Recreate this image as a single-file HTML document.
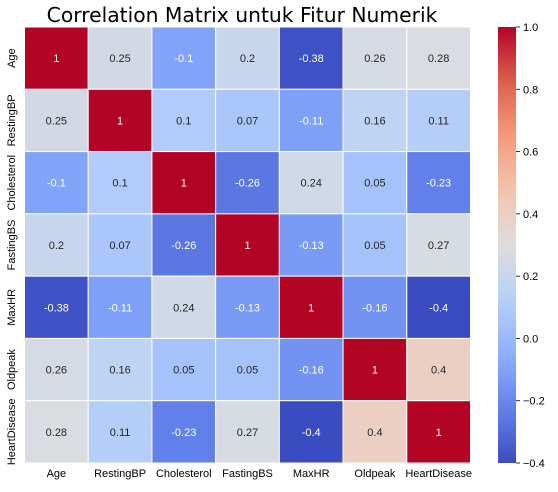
<!DOCTYPE html>
<html><head><meta charset="utf-8"><style>
body{margin:0;background:#fff;width:558px;height:487px;overflow:hidden;font-family:"Liberation Sans",sans-serif}
</style></head><body>
<svg id="chart" width="558" height="487" xmlns="http://www.w3.org/2000/svg">
<defs><linearGradient id="cg" x1="0" y1="1" x2="0" y2="0"></linearGradient></defs>
<text x="242" y="22" font-size="20.3" font-family="DejaVu Sans, sans-serif" text-anchor="middle" fill="#000">Correlation Matrix untuk Fitur Numerik</text>
<g id="cells"></g><g id="labels"></g><g id="cbar"></g>
</svg>
<script>
const features = ["Age","RestingBP","Cholesterol","FastingBS","MaxHR","Oldpeak","HeartDisease"];
const matrix = [
 [1,0.25,-0.1,0.2,-0.38,0.26,0.28],
 [0.25,1,0.1,0.07,-0.11,0.16,0.11],
 [-0.1,0.1,1,-0.26,0.24,0.05,-0.23],
 [0.2,0.07,-0.26,1,-0.13,0.05,0.27],
 [-0.38,-0.11,0.24,-0.13,1,-0.16,-0.4],
 [0.26,0.16,0.05,0.05,-0.16,1,0.4],
 [0.28,0.11,-0.23,0.27,-0.4,0.4,1]
];
const cbarTicks = [-0.4,-0.2,0.0,0.2,0.4,0.6,0.8,1.0];
const vmin=-0.4, vmax=1.0;
const L=24.5,T=27,W=446,H=436,n=features.length,cw=W/n,ch=H/n;
const stops=[[59,76,192],[98,130,234],[141,176,254],[184,208,249],[221,221,221],[245,196,173],[244,154,123],[222,96,77],[180,4,38]];
function cmap(t){t=Math.max(0,Math.min(1,t));const p=t*8,i=Math.min(7,Math.floor(p)),f=p-i,a=stops[i],b=stops[i+1];return a.map((v,k)=>Math.round(v+(b[k]-v)*f));}
function lum(c){const l=c.map(v=>{v/=255;return v<=0.03928?v/12.92:Math.pow((v+0.055)/1.055,2.4)});return 0.2126*l[0]+0.7152*l[1]+0.0722*l[2];}
const NS="http://www.w3.org/2000/svg";
function mk(tag,attrs,parent){const e=document.createElementNS(NS,tag);for(const k in attrs)e.setAttribute(k,attrs[k]);parent.appendChild(e);return e;}
const xs=i=>L+i*cw, ys=j=>T+j*ch;
const cells=document.getElementById('cells'), labels=document.getElementById('labels'), cb=document.getElementById('cbar');
matrix.forEach((row,j)=>row.forEach((v,i)=>{
 const c=cmap((v-vmin)/(vmax-vmin));
 const r=mk('rect',{x:xs(i),y:ys(j),width:cw,height:ch,fill:`rgb(${c})`,stroke:'#fff','stroke-width':1},cells);
 
 
 const t=mk('text',{x:xs(i)+cw/2,y:ys(j)+ch/2+4,'font-size':11,'text-anchor':'middle',fill:lum(c)>0.408?'#262626':'#fff'},cells);
 t.textContent=String(v);
 
 
}));
features.forEach((f,i)=>{
 const t=mk('text',{x:xs(i)+cw/2,y:T+H+14,'font-size':11,'text-anchor':'middle',fill:'#000'},labels);
 t.textContent=f;
 
 
 const cy=ys(i)+ch/2;
 const y=mk('text',{x:0,y:0,'font-size':11,'text-anchor':'middle',fill:'#000',transform:`translate(15,${cy}) rotate(-90)`},labels);
 y.textContent=f;
 
 
});
const g=document.getElementById('cg');
for(let k=0;k<=20;k++){const c=cmap(k/20);mk('stop',{offset:k/20,'stop-color':`rgb(${c})`},g);}
const CX=498,CW=18;
const cr=mk('rect',{x:CX,y:T,width:CW,height:H,fill:'url(#cg)'},cb);


const cys=v=>T+H-(v-vmin)/(vmax-vmin)*H;
cbarTicks.forEach(v=>{
 const y=cys(v);
 mk('line',{x1:CX+CW,x2:CX+CW+4,y1:y,y2:y,stroke:'#000','stroke-width':0.8},cb);
 const t=mk('text',{x:CX+CW+7,y:y+4,'font-size':11,fill:'#000'},cb);
 t.textContent=(v<0?'\u2212':'')+Math.abs(v).toFixed(1);
 
 
});
</script>
</body></html>
